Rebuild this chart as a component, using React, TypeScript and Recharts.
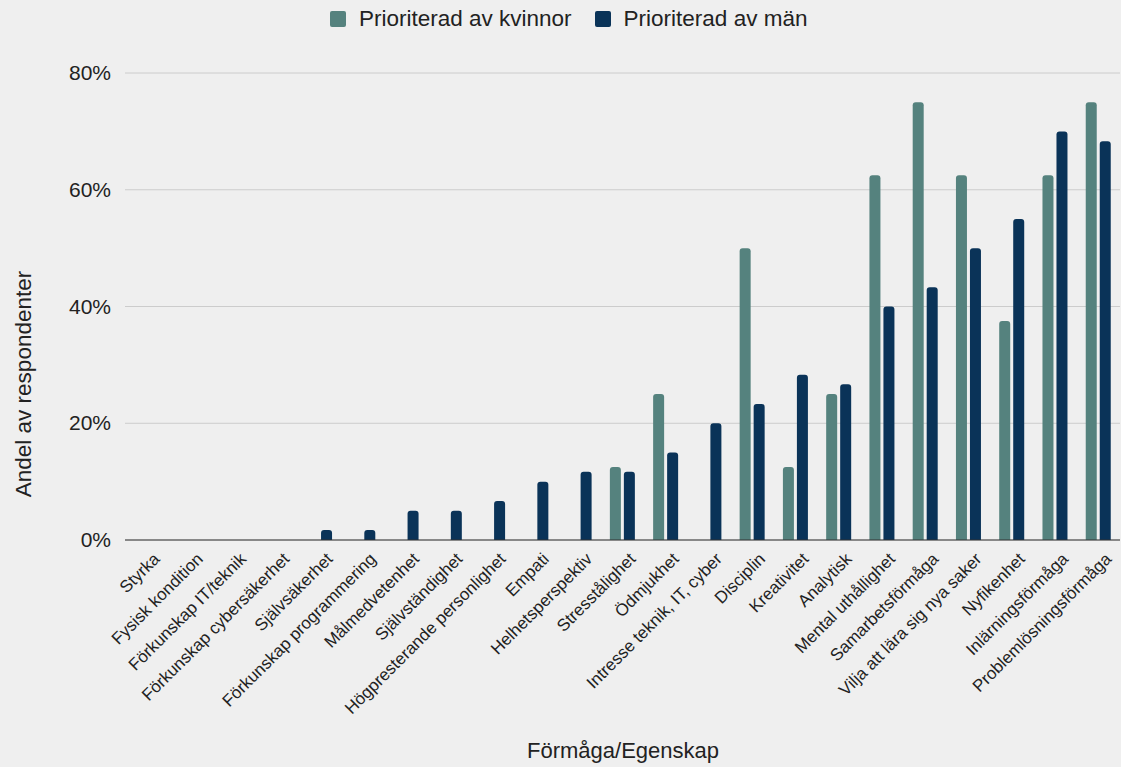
import { Bar, BarChart, CartesianGrid, XAxis, YAxis } from "recharts";

const categories = [
  "Styrka",
  "Fysisk kondition",
  "Förkunskap IT/teknik",
  "Förkunskap cybersäkerhet",
  "Självsäkerhet",
  "Förkunskap programmering",
  "Målmedvetenhet",
  "Självständighet",
  "Högpresterande personlighet",
  "Empati",
  "Helhetsperspektiv",
  "Stresstålighet",
  "Ödmjukhet",
  "Intresse teknik, IT, cyber",
  "Disciplin",
  "Kreativitet",
  "Analytisk",
  "Mental uthållighet",
  "Samarbetsförmåga",
  "Vilja att lära sig nya saker",
  "Nyfikenhet",
  "Inlärningsförmåga",
  "Problemlösningsförmåga",
];

// andel i procent
const women = [0, 0, 0, 0, 0, 0, 0, 0, 0, 0, 0, 12.5, 25, 0, 50, 12.5, 25, 62.5, 75, 62.5, 37.5, 62.5, 75];
const men = [0, 0, 0, 0, 1.7, 1.7, 5, 5, 6.7, 10, 11.7, 11.7, 15, 20, 23.3, 28.3, 26.7, 40, 43.3, 50, 55, 70, 68.3];

const yTicks = [0, 20, 40, 60, 80];

const WOMEN_COLOR = "#55827e";
const MEN_COLOR = "#0a3358";
const FONT = "'Liberation Sans', Arial, sans-serif";

const data = categories.map((name, i) => ({ name, women: women[i], men: men[i] }));

function XTick({ x, y, payload }: any) {
  return (
    <g transform={`translate(${x + 14},${y + 20})`}>
      <text
        x={0}
        y={0}
        textAnchor="end"
        transform="rotate(-45)"
        fontSize={17}
        fontFamily={FONT}
        fill="#222"
      >
        {payload.value}
      </text>
    </g>
  );
}

function YTick({ y, payload }: any) {
  return (
    <text x={111} y={y} dy={7} textAnchor="end" fontSize={21} fontFamily={FONT} fill="#222">
      {payload.value}%
    </text>
  );
}

function LegendItem({ color, label }: { color: string; label: string }) {
  return (
    <div style={{ display: "flex", alignItems: "center", marginRight: 23 }}>
      <span
        style={{
          width: 16,
          height: 16,
          borderRadius: 2,
          background: color,
          marginRight: 13,
          display: "inline-block",
        }}
      />
      <span style={{ fontSize: 22.5, color: "#222" }}>{label}</span>
    </div>
  );
}

export default function App() {
  return (
    <div
      style={{
        position: "absolute",
        left: 0,
        top: 0,
        width: 1121,
        height: 767,
        background: "#efefef",
        fontFamily: FONT,
      }}
    >
      <div
        style={{
          position: "absolute",
          top: 5,
          left: 330,
          height: 28,
          display: "flex",
          alignItems: "center",
        }}
      >
        <LegendItem color={WOMEN_COLOR} label="Prioriterad av kvinnor" />
        <LegendItem color={MEN_COLOR} label="Prioriterad av män" />
      </div>
      <BarChart
        width={1121}
        height={767}
        data={data}
        margin={{ top: 73, right: 1, left: 0, bottom: 0 }}
        barSize={11}
        barGap={3}
      >
        <CartesianGrid vertical={false} stroke="#cccccc" />
        <XAxis
          dataKey="name"
          interval={0}
          height={227}
          tickLine={false}
          tickSize={0}
          tickMargin={0}
          axisLine={{ stroke: "#333333" }}
          tick={<XTick />}
          label={{
            content: () => (
              <text x={623} y={758} textAnchor="middle" fontSize={22} fontFamily={FONT} fill="#222">
                Förmåga/Egenskap
              </text>
            ),
          }}
        />
        <YAxis
          width={125}
          domain={[0, 80]}
          ticks={yTicks}
          axisLine={false}
          tickLine={false}
          tick={<YTick />}
          label={{
            content: () => (
              <text
                x={0}
                y={0}
                transform="translate(31,384) rotate(-90)"
                textAnchor="middle"
                fontSize={22.5}
                fontFamily={FONT}
                fill="#222"
              >
                Andel av respondenter
              </text>
            ),
          }}
        />
        <Bar
          dataKey="women"
          name="Prioriterad av kvinnor"
          fill={WOMEN_COLOR}
          radius={[3, 3, 0, 0]}
          isAnimationActive={false}
        />
        <Bar
          dataKey="men"
          name="Prioriterad av män"
          fill={MEN_COLOR}
          radius={[3, 3, 0, 0]}
          isAnimationActive={false}
        />
      </BarChart>
    </div>
  );
}
